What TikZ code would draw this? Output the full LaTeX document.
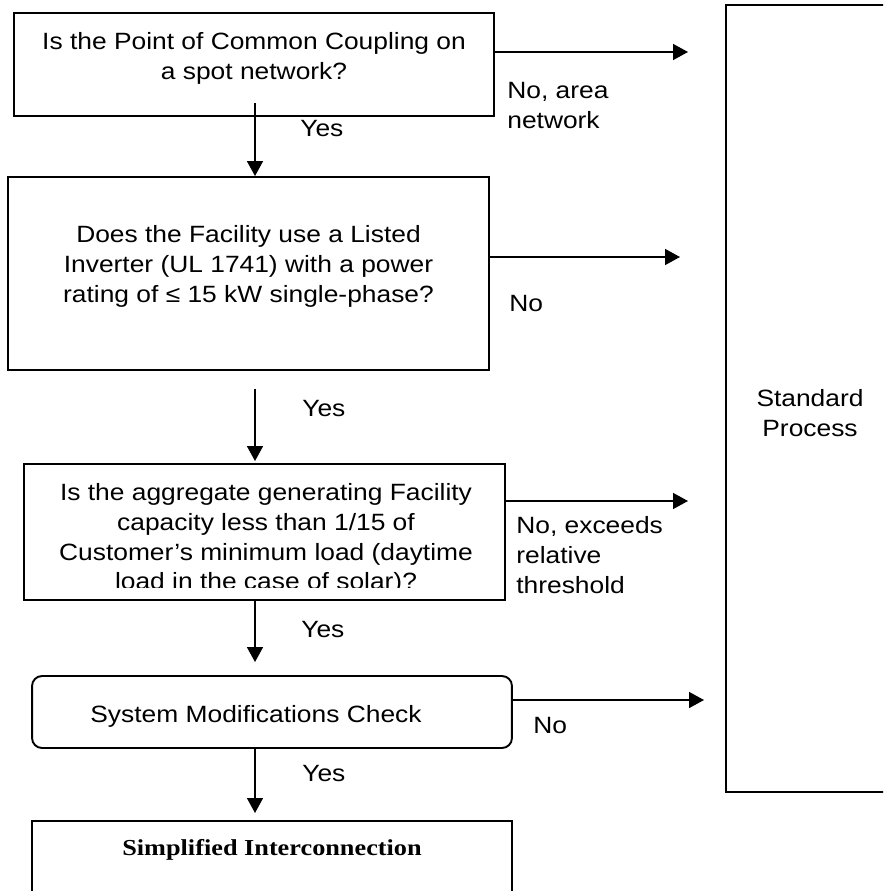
\documentclass[tikz,border=0pt]{standalone}
\usepackage{fontspec}
\setmainfont{Liberation Sans}[FakeStretch=1.12]
\newfontfamily\boldserif{Liberation Serif}[FakeStretch=1.15]
\usetikzlibrary{arrows.meta}

\begin{document}
\begin{tikzpicture}[x=0.02cm,y=-0.02cm,
    every node/.style={font=\fontsize{13.4}{17}\selectfont, inner sep=0pt},
    box/.style={draw, line width=1.1pt},
    arr/.style={line width=0.85pt, -{Triangle[length=0.3cm,width=0.32cm]}}]
    \useasboundingbox (0,0) rectangle (883,891);
    \clip (0,0) rectangle (883,891);
    \coordinate (spine) at (255,0);
    % Draw the question boxes
    \node [box, minimum width=9.6cm, minimum height=2.06cm] (pcc) at (254,64.5) {};
    \node [align=center] (pcctxt) at (254,58) {Is the Point of Common Coupling on\\a spot network?};

    \node [box, minimum width=9.62cm, minimum height=3.86cm] (inv) at (248.5,273.5) {};
    \node [align=center] (invtxt) at (248.5,266.5) {Does the Facility use a Listed\\Inverter (UL 1741) with a power\\rating of ≤ 15 kW single-phase?};

    \node [box, minimum width=9.62cm, minimum height=2.72cm] (agg) at (264.5,532) {};
    \begin{scope}
        \clip (24,464) rectangle (505,587);
        \node [align=center] (aggtxt) at (266,539) {Is the aggregate generating Facility\\capacity less than 1/15 of\\Customer’s minimum load (daytime\\load in the case of solar)?};
    \end{scope}

    \node [box, rounded corners=0.2cm, minimum width=9.6cm, minimum height=1.44cm] (mod) at (272,712) {};
    \node (modtxt) at (256,716) {System Modifications Check};

    \node [box, minimum width=9.6cm, minimum height=2.4cm, anchor=north] (simp) at (272,820) {};
    \node (simptxt) at (272,849.5) {\boldserif\bfseries\fontsize{13}{16}\selectfont Simplified Interconnection};

    % Draw the standard process box
    \node [draw, line width=1.3pt, minimum width=3.36cm, minimum height=15.74cm] (std) at (810,398.5) {};
    \node [align=center] (stdtxt) at (810,413.5) {Standard\\Process};

    % Draw the Yes arrows
    \draw [arr] (pcc.south -| spine) ++(0,-14) -- (inv.north -| spine);
    \draw [arr] (inv.south -| spine) ++(0,18) -- ([yshift=0.04cm]agg.north -| spine);
    \draw [arr, shorten >=0.26cm] (agg.south -| spine) -- (mod.north -| spine);
    \draw [arr, shorten >=0.14cm] (mod.south -| spine) -- (simp.north -| spine);
    \node [anchor=west] (yes1) at (300,129) {Yes};
    \node [anchor=west] (yes2) at (302,409) {Yes};
    \node [anchor=west] (yes3) at (301,629.5) {Yes};
    \node [anchor=west] (yes4) at (302,773.5) {Yes};

    % Draw the No arrows
    \coordinate (e1) at (688,52);
    \coordinate (e2) at (680,257);
    \coordinate (e3) at (688,501);
    \coordinate (e4) at (704,700);
    \draw [arr] (pcc.east |- e1) -- (e1);
    \draw [arr] (inv.east |- e2) -- (e2);
    \draw [arr] (agg.east |- e3) -- (e3);
    \draw [arr] (mod.east |- e4) -- (e4);
    \node [anchor=north west, align=left] (no1) at (507,82) {No, area\\network};
    \node [anchor=west] (no2) at (509,304) {No};
    \node [anchor=north west, align=left] (no3) at (516,516.5) {No, exceeds\\relative\\threshold};
    \node [anchor=west] (no4) at (533,725.5) {No};
\end{tikzpicture}
\end{document}
